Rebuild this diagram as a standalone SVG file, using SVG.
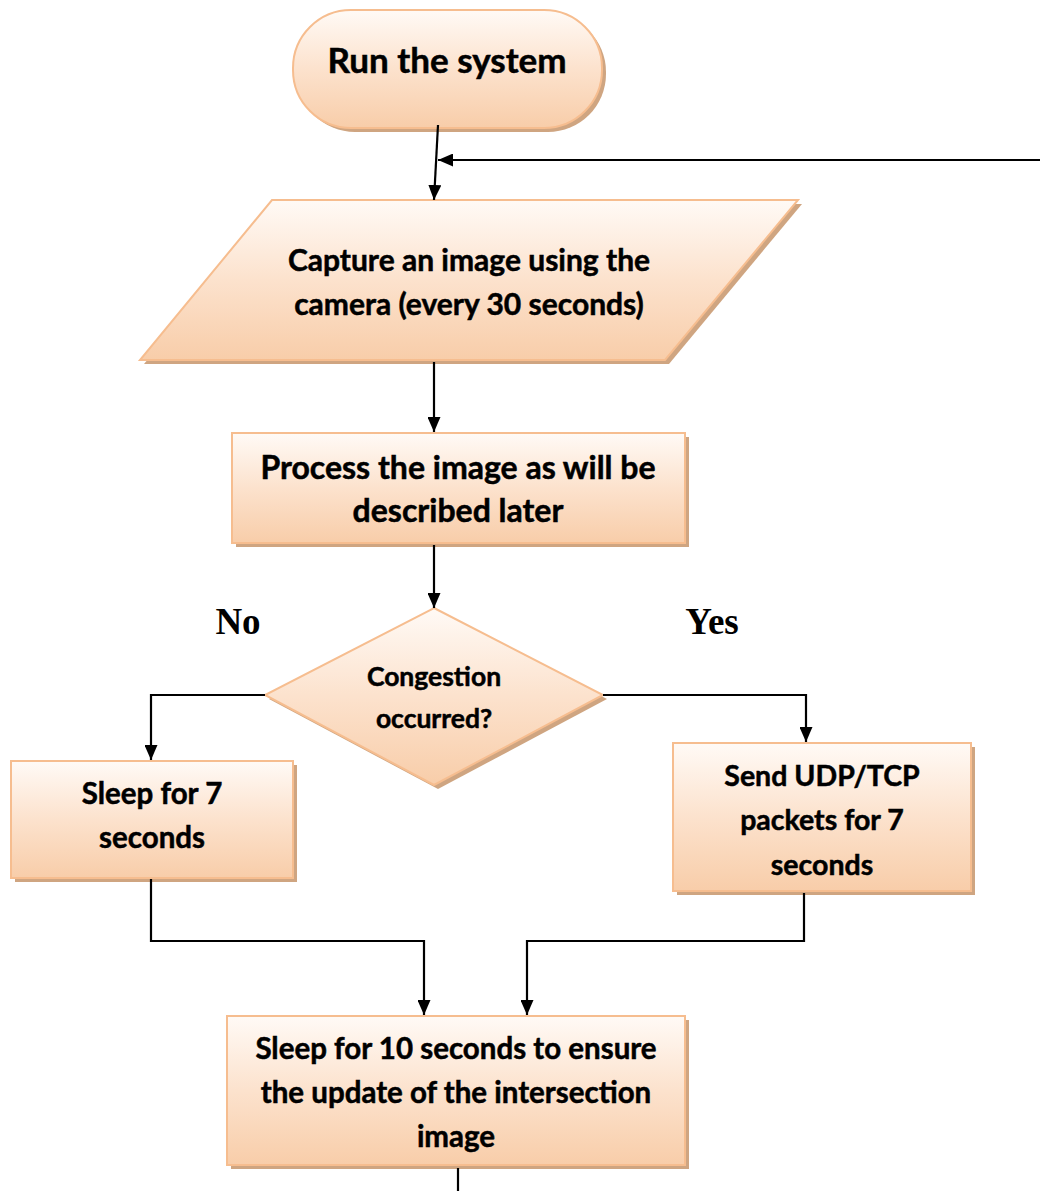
<svg xmlns="http://www.w3.org/2000/svg" width="1040" height="1191" viewBox="0 0 1040 1191">
  <defs>
    <linearGradient id="peach" x1="0" y1="0" x2="0" y2="1">
      <stop offset="0" stop-color="#fffaf6"/>
      <stop offset="0.5" stop-color="#fce2cd"/>
      <stop offset="1" stop-color="#f8cda9"/>
    </linearGradient>
    <marker id="arrow" viewBox="0 0 15 13" refX="15" refY="6.5" markerWidth="15" markerHeight="13" markerUnits="userSpaceOnUse" orient="auto">
      <path d="M0,0 L15,6.5 L0,13 Z" fill="#000"/>
    </marker>
  </defs>
  <style>
    .shadow { fill: #cfa581; }
    .shape { fill: url(#peach); stroke: #f6bd8f; stroke-width: 2; }
    .label { font-family: Lato, "Open Sans", "Liberation Sans", sans-serif; font-weight: bold; fill: #000; stroke: #000; stroke-width: 0.5; text-anchor: middle; }
    .branch { font-family: "Liberation Serif", "Times New Roman", serif; font-weight: bold; font-size: 37px; fill: #000; text-anchor: middle; }
    .wire { fill: none; stroke: #000; stroke-width: 2.2; }
  </style>
  <rect width="1040" height="1191" fill="#fff"/>

  <!-- start terminal -->
  <g id="start">
    <rect class="shadow" x="297" y="14" width="309" height="118" rx="58" ry="58"/>
    <rect class="shape" x="293" y="10" width="309" height="118" rx="58" ry="58"/>
    <text class="label" x="447" y="73" font-size="35">Run the system</text>
  </g>

  <!-- capture input -->
  <g id="capture">
    <polygon class="shadow" points="276,204 802,204 669,364 144,364"/>
    <polygon class="shape" points="272,200 798,200 665,360 140,360"/>
    <text class="label" x="469" y="271" font-size="30">Capture an image using the</text>
    <text class="label" x="469" y="315" font-size="30">camera (every 30 seconds)</text>
  </g>

  <!-- processing step -->
  <g id="process">
    <rect class="shadow" x="236" y="437" width="453" height="110"/>
    <rect class="shape" x="232" y="433" width="453" height="110"/>
    <text class="label" x="458" y="479" font-size="32">Process the image as will be</text>
    <text class="label" x="458" y="522" font-size="32">described later</text>
  </g>

  <!-- decision -->
  <g id="decision">
    <polygon class="shadow" points="438,612 607,699 438,789 269,699"/>
    <polygon class="shape" points="434,608 603,695 434,785 265,695"/>
    <text class="label" x="434" y="686" font-size="26.5">Congestion</text>
    <text class="label" x="434" y="728" font-size="26.5">occurred?</text>
  </g>

  <!-- no branch -->
  <g id="sleep7">
    <rect class="shadow" x="15" y="765" width="282" height="117"/>
    <rect class="shape" x="11" y="761" width="282" height="117"/>
    <text class="label" x="152" y="804" font-size="29.5">Sleep for 7</text>
    <text class="label" x="152" y="848" font-size="29.5">seconds</text>
  </g>

  <!-- yes branch -->
  <g id="send">
    <rect class="shadow" x="677" y="747" width="298" height="148"/>
    <rect class="shape" x="673" y="743" width="298" height="148"/>
    <text class="label" x="822" y="786" font-size="28.5">Send UDP/TCP</text>
    <text class="label" x="822" y="830" font-size="28.5">packets for 7</text>
    <text class="label" x="822" y="875" font-size="28.5">seconds</text>
  </g>

  <!-- wait step -->
  <g id="sleep10">
    <rect class="shadow" x="231" y="1020" width="458" height="149"/>
    <rect class="shape" x="227" y="1016" width="458" height="149"/>
    <text class="label" x="456" y="1059" font-size="29.5">Sleep for 10 seconds to ensure</text>
    <text class="label" x="456" y="1103" font-size="29.5">the update of the intersection</text>
    <text class="label" x="456" y="1147" font-size="29.5">image</text>
  </g>

  <!-- branch labels -->
  <text class="branch" x="238" y="634">No</text>
  <text class="branch" x="712" y="634">Yes</text>

  <!-- connectors -->
  <g id="connectors">
    <path class="wire" d="M438,125 L434,200" marker-end="url(#arrow)"/>
    <path class="wire" d="M1040,160 L438,160" marker-end="url(#arrow)"/>
    <path class="wire" d="M434,362 L434,432" marker-end="url(#arrow)"/>
    <path class="wire" d="M434,545 L434,608" marker-end="url(#arrow)"/>
    <path class="wire" d="M265,695 L151,695 L151,760" marker-end="url(#arrow)"/>
    <path class="wire" d="M603,695 L806,695 L806,742" marker-end="url(#arrow)"/>
    <path class="wire" d="M151,879 L151,941 L424,941 L424,1015" marker-end="url(#arrow)"/>
    <path class="wire" d="M804,893 L804,941 L527,941 L527,1015" marker-end="url(#arrow)"/>
    <path class="wire" d="M458,1168 L458,1191"/>
  </g>
</svg>
